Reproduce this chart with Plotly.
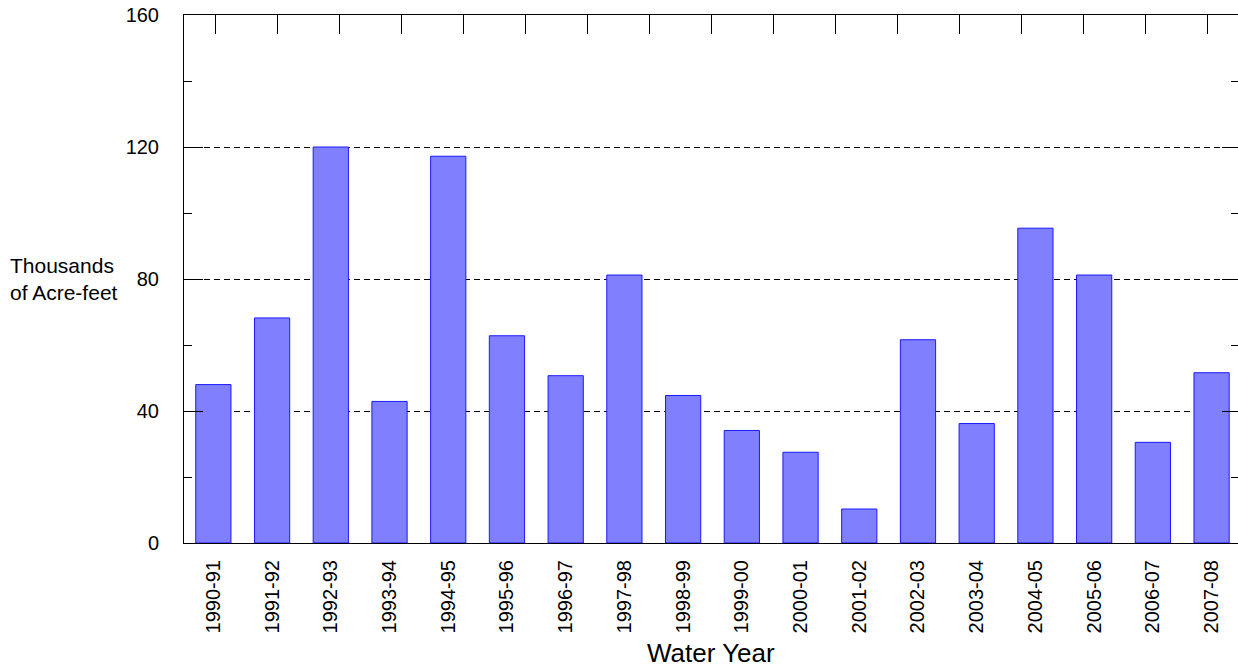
import plotly.graph_objects as go

years = ["1990-91", "1991-92", "1992-93", "1993-94", "1994-95", "1995-96",
         "1996-97", "1997-98", "1998-99", "1999-00", "2000-01", "2001-02",
         "2002-03", "2003-04", "2004-05", "2005-06", "2006-07", "2007-08"]
values = [48.0, 68.2, 120.0, 42.9, 117.2, 62.8, 50.7, 81.2, 44.7, 34.1,
          27.5, 10.3, 61.6, 36.2, 95.4, 81.2, 30.5, 51.6]
y_ticks = [0, 40, 80, 120, 160]
top_ticks = list(range(17))

FONT = "Liberation Sans, Arial, sans-serif"

fig = go.Figure()
fig.add_trace(go.Bar(
    x=years, y=values, width=0.6,
    marker=dict(color="#8080ff", line=dict(color="#1a1aff", width=1)),
    showlegend=False, hoverinfo="x+y",
))
fig.add_trace(go.Scatter(
    x=[None], y=[None], xaxis="x2", yaxis="y2", showlegend=False, hoverinfo="skip",
))

fig.update_layout(
    width=1238, height=668,
    margin=dict(l=184, r=0, t=15, b=125),
    paper_bgcolor="white", plot_bgcolor="white",
    font=dict(family=FONT, size=20, color="black"),
    xaxis=dict(
        type="category", range=[-0.5, 17.45],
        showline=True, linecolor="black", linewidth=1, mirror=False,
        ticks="", tickangle=-90, tickfont=dict(size=20),
        showgrid=False, zeroline=False, ticklabelstandoff=8,
    ),
    xaxis2=dict(
        overlaying="x", side="top", range=[-0.5, 16.5],
        tickvals=top_ticks, showticklabels=False,
        ticks="inside", ticklen=19, tickcolor="black",
        showline=True, linecolor="black", linewidth=1,
        showgrid=False, zeroline=False,
    ),
    yaxis=dict(
        range=[0, 160], tickvals=y_ticks,
        ticks="inside", ticklen=19, tickcolor="black",
        minor=dict(dtick=20, ticks="inside", ticklen=8, tickcolor="black", showgrid=False),
        showline=True, linecolor="black", linewidth=1,
        showgrid=True, gridcolor="black", gridwidth=1, griddash="6px,4px",
        zeroline=False, ticklabelstandoff=20, tickfont=dict(size=20),
    ),
    yaxis2=dict(
        overlaying="y", side="right", range=[0, 160], tickvals=y_ticks,
        ticks="inside", ticklen=16, tickcolor="black",
        minor=dict(dtick=20, ticks="inside", ticklen=7, tickcolor="black", showgrid=False),
        showticklabels=False, showline=False,
        showgrid=False, zeroline=False,
    ),
    annotations=[
        dict(text="Water Year", xref="paper", yref="paper", x=0.5, y=-0.209,
             xanchor="center", yanchor="middle", showarrow=False,
             font=dict(size=26, family=FONT)),
        dict(text="Thousands<br>of Acre-feet", xref="paper", yref="paper",
             x=-0.167, y=0.50, xanchor="left", yanchor="middle", align="left",
             showarrow=False, font=dict(size=21, family=FONT)),
    ],
)

fig.write_html("out.html", config={"displayModeBar": False},
               post_script="document.body.style.margin='0';document.body.style.overflow='hidden';")
